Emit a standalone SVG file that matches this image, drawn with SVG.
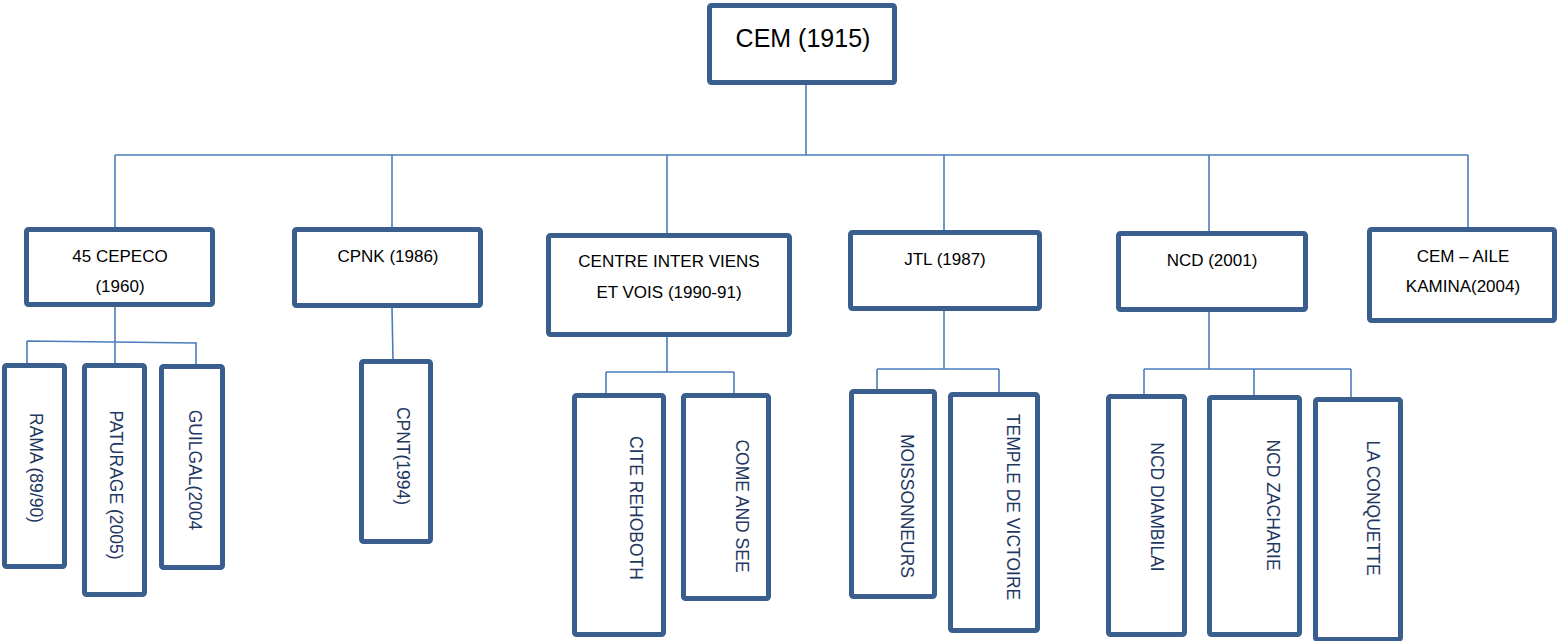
<svg xmlns="http://www.w3.org/2000/svg" width="1558" height="641" viewBox="0 0 1558 641">
<style>
.box{fill:#fff;stroke:#3A5F8E;stroke-width:5;}
.ln{fill:none;stroke:#4A7EBB;stroke-width:1.6;}
.t2{font-family:"Liberation Sans",Arial,sans-serif;font-size:17px;fill:#000;text-anchor:middle;}
.t1{font-family:"Liberation Sans",Arial,sans-serif;font-size:25px;fill:#000;text-anchor:middle;}
.t3{font-family:"Liberation Sans",Arial,sans-serif;font-size:17.5px;fill:#1F3862;text-anchor:middle;}
</style>
<rect width="1558" height="641" fill="#fff"/>
<g id="connectors">
<path class="ln" d="M806,85 V155 M115,155 H1468 M115,155 V227 M392,155 V227 M667,155 V233 M944,155 V230 M1209,155 V231 M1468,155 V227"/>
<path class="ln" d="M115,307 V365 M27,341 L197,343 M27,341 V363 M196,343 V364"/>
<path class="ln" d="M392,308 L393,359"/>
<path class="ln" d="M667,337 V372 M606,372 H734 M606,372 V393 M734,372 V393"/>
<path class="ln" d="M944,311 V369 M877,369 H999 M877,369 V389 M999,369 V392"/>
<path class="ln" d="M1209,312 V369 M1144,369 H1351 M1144,369 V394 M1254,369 V395 M1351,369 V397"/>
</g>
<g id="cem"><rect class="box" x="709.5" y="5.5" width="185" height="77" rx="2"/><text class="t1" x="803" y="47">CEM (1915)</text></g>
<g id="cepeco"><rect class="box" x="26.5" y="229.5" width="186" height="75" rx="2"/><text class="t2" x="120" y="262">45 CEPECO</text><text class="t2" x="120" y="292">(1960)</text></g>
<g id="cpnk"><rect class="box" x="294.5" y="229.5" width="186" height="76" rx="2"/><text class="t2" x="388" y="262">CPNK (1986)</text></g>
<g id="centre"><rect class="box" x="548.5" y="235.5" width="241" height="99" rx="2"/><text class="t2" x="669" y="267">CENTRE INTER VIENS</text><text class="t2" x="669" y="298">ET VOIS (1990-91)</text></g>
<g id="jtl"><rect class="box" x="850.5" y="232.5" width="189" height="76" rx="2"/><text class="t2" x="945" y="265">JTL (1987)</text></g>
<g id="ncd"><rect class="box" x="1118.5" y="233.5" width="187" height="76" rx="2"/><text class="t2" x="1212" y="266">NCD (2001)</text></g>
<g id="aile"><rect class="box" x="1369.5" y="229.5" width="185" height="91" rx="2"/><text class="t2" x="1463" y="262">CEM – AILE</text><text class="t2" x="1463" y="292">KAMINA(2004)</text></g>
<g id="rama"><rect class="box" x="4.5" y="365.5" width="60" height="201" rx="2"/><text class="t3" transform="translate(30,468) rotate(90)">RAMA (89/90)</text></g>
<g id="paturage"><rect class="box" x="84.5" y="365.5" width="60" height="229" rx="2"/><text class="t3" transform="translate(110,485) rotate(90)">PATURAGE (2005)</text></g>
<g id="guilgal"><rect class="box" x="161.5" y="366.5" width="61" height="201" rx="2"/><text class="t3" transform="translate(189,470) rotate(90)">GUILGAL(2004</text></g>
<g id="cpnt"><rect class="box" x="361.5" y="361.5" width="69" height="180" rx="2"/><text class="t3" transform="translate(397,456) rotate(90)">CPNT(1994)</text></g>
<g id="cite"><rect class="box" x="574.5" y="395.5" width="89" height="239" rx="2"/><text class="t3" transform="translate(630,508) rotate(90)">CITE REHOBOTH</text></g>
<g id="come"><rect class="box" x="683.5" y="395.5" width="85" height="203" rx="2"/><text class="t3" transform="translate(736,506) rotate(90)">COME AND SEE</text></g>
<g id="moiss"><rect class="box" x="851.5" y="391.5" width="83" height="205" rx="2"/><text class="t3" transform="translate(901,506) rotate(90)">MOISSONNEURS</text></g>
<g id="temple"><rect class="box" x="950.5" y="394.5" width="87" height="236" rx="2"/><text class="t3" transform="translate(1007,507) rotate(90)">TEMPLE DE VICTOIRE</text></g>
<g id="diamb"><rect class="box" x="1108.5" y="396.5" width="76" height="238" rx="2"/><text class="t3" transform="translate(1151,507) rotate(90)">NCD DIAMBILAI</text></g>
<g id="zach"><rect class="box" x="1209.5" y="397.5" width="90" height="237" rx="2"/><text class="t3" transform="translate(1267,505) rotate(90)">NCD ZACHARIE</text></g>
<g id="conq"><rect class="box" x="1315.5" y="399.5" width="85" height="240" rx="2"/><text class="t3" transform="translate(1367,508) rotate(90)">LA CONQUETTE</text></g>
</svg>
